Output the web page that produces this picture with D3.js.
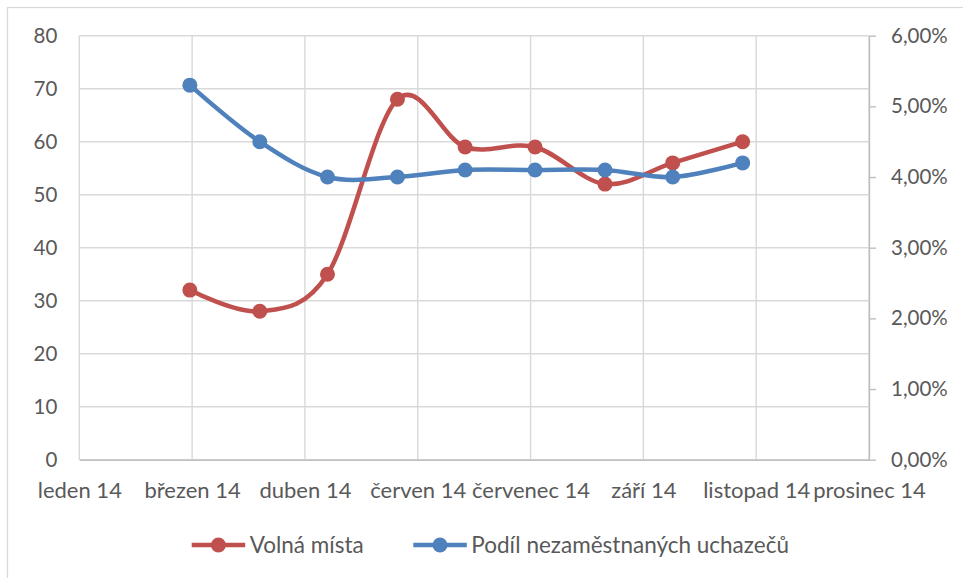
<!DOCTYPE html>
<html>
<head>
<meta charset="utf-8">
<script src="https://cdn.jsdelivr.net/npm/d3@7"></script>
<style>
  body { margin: 0; background: #fff; }
  svg text { font-family: Lato, "Open Sans", sans-serif; fill: #595959; }
</style>
</head>
<body>
<svg id="chart" width="963" height="578"></svg>
<script>
// monthly values, March - November 2014
const months = ["2014-03-01", "2014-04-01", "2014-05-01", "2014-06-01", "2014-07-01",
                "2014-08-01", "2014-09-01", "2014-10-01", "2014-11-01"];
const volnaMista = [32, 28, 35, 68, 59, 59, 52, 56, 60];
const podilUchazecu = [0.053, 0.045, 0.040, 0.040, 0.041, 0.041, 0.041, 0.040, 0.042];

// date axis ticks (Excel date axis, step 50 days)
const tickDates = ["2014-01-11", "2014-03-02", "2014-04-21", "2014-06-10",
                   "2014-07-30", "2014-09-18", "2014-11-07", "2014-12-27"];
const tickLabels = ["leden 14", "březen 14", "duben 14", "červen 14",
                    "červenec 14", "září 14", "listopad 14", "prosinec 14"];
const leftTicks = [0, 10, 20, 30, 40, 50, 60, 70, 80];
const rightTicks = [0, 0.01, 0.02, 0.03, 0.04, 0.05, 0.06];

const seriesNames = ["Volná místa", "Podíl nezaměstnaných uchazečů"];
const colors = ["#C0504D", "#4F81BD"];

const parse = d3.utcParse("%Y-%m-%d");
const cz = d3.formatLocale({decimal: ",", thousands: " ", grouping: [3], currency: ["", " Kč"]});
const pct = cz.format(".2%");

var margin = {top: 35.7, left: 79.3, right: 869, bottom: 459.7};

var svg = d3.select("#chart");

// chart area frame (partly outside the window)
svg.append("rect")
    .attr("x", 7.5).attr("y", 7.5)
    .attr("width", 1000).attr("height", 600)
    .attr("fill", "none")
    .attr("stroke", "#d9d9d9")
    .attr("stroke-width", 1.3);

var tickD = tickDates.map(parse);

var x = d3.scaleUtc()
    .domain([tickD[0], tickD[tickD.length - 1]])
    .range([margin.left, margin.right]);

var yLeft = d3.scaleLinear().domain([0, 80]).range([margin.bottom, margin.top]);
var yRight = d3.scaleLinear().domain([0, 0.06]).range([margin.bottom, margin.top]);

// horizontal gridlines
svg.append("g")
    .selectAll("line")
    .data(leftTicks)
    .enter().append("line")
    .attr("x1", margin.left).attr("x2", margin.right)
    .attr("y1", d => yLeft(d)).attr("y2", d => yLeft(d))
    .attr("stroke", "#d9d9d9")
    .attr("stroke-width", 1.4);

// vertical gridlines
svg.append("g")
    .selectAll("line")
    .data(tickD)
    .enter().append("line")
    .attr("x1", d => x(d)).attr("x2", d => x(d))
    .attr("y1", margin.top).attr("y2", margin.bottom)
    .attr("stroke", "#d9d9d9")
    .attr("stroke-width", 1.4);

// left axis
var leftAxis = svg.append("g")
    .attr("transform", "translate(" + margin.left + ",0)")
    .call(d3.axisLeft(yLeft).tickValues(leftTicks).tickSize(0).tickPadding(22));
leftAxis.select(".domain").remove();
leftAxis.selectAll("text").style("font-size", "20.5px").attr("fill", "#595959");

// right axis
var rightAxis = svg.append("g")
    .attr("transform", "translate(" + margin.right + ",0)")
    .call(d3.axisRight(yRight).tickValues(rightTicks).tickFormat(pct).tickSize(7).tickSizeOuter(0).tickPadding(15));
rightAxis.select(".domain").attr("stroke", "#bfbfbf").attr("stroke-width", 1.4);
rightAxis.selectAll("line").attr("stroke", "#bfbfbf").attr("stroke-width", 1.4);
rightAxis.selectAll("text").style("font-size", "20.5px").attr("fill", "#595959");

// bottom axis
var bottomAxis = svg.append("g")
    .attr("transform", "translate(0," + margin.bottom + ")")
    .call(d3.axisBottom(x).tickValues(tickD).tickSize(0).tickPadding(23)
        .tickFormat((d, i) => tickLabels[i]));
bottomAxis.select(".domain").attr("stroke", "#bfbfbf").attr("stroke-width", 1.4);
bottomAxis.selectAll("text").style("font-size", "22px").attr("fill", "#595959");

// series
var dates = months.map(parse);
var red = dates.map((d, i) => ({date: d, value: volnaMista[i]}));
var blue = dates.map((d, i) => ({date: d, value: podilUchazecu[i]}));

function drawSeries(data, yScale, color) {
    var line = d3.line()
        .x(d => x(d.date))
        .y(d => yScale(d.value))
        .curve(d3.curveCardinal);
    svg.append("path")
        .datum(data)
        .attr("d", line)
        .attr("fill", "none")
        .attr("stroke", color)
        .attr("stroke-width", 4.5)
        .attr("stroke-linecap", "round");
    svg.append("g")
        .selectAll("circle")
        .data(data)
        .enter().append("circle")
        .attr("cx", d => x(d.date))
        .attr("cy", d => yScale(d.value))
        .attr("r", 7.5)
        .attr("fill", color);
}

drawSeries(red, yLeft, colors[0]);
drawSeries(blue, yRight, colors[1]);

// legend
var legendItems = [
    {name: seriesNames[0], color: colors[0], x: 191.7},
    {name: seriesNames[1], color: colors[1], x: 413.3}
];
var legend = svg.append("g").attr("transform", "translate(0,545)");
legendItems.forEach(item => {
    var g = legend.append("g").attr("transform", "translate(" + item.x + ",0)");
    g.append("line")
        .attr("x1", 0).attr("x2", 53.5)
        .attr("stroke", item.color)
        .attr("stroke-width", 4.5);
    g.append("circle")
        .attr("cx", 26.7).attr("r", 7.5)
        .attr("fill", item.color);
    g.append("text")
        .attr("x", 58).attr("dy", "0.35em")
        .style("font-size", "22.5px")
        .text(item.name);
});
</script>
</body>
</html>
